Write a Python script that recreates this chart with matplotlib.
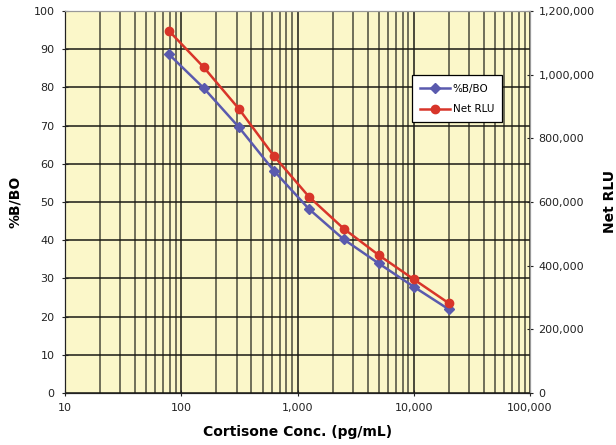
import numpy as np
import matplotlib
matplotlib.use("Agg")
import matplotlib.pyplot as plt
from matplotlib.ticker import FuncFormatter, LogLocator, NullFormatter

# data
conc = [78.125, 156.25, 312.5, 625, 1250, 2500, 5000, 10000, 20000]
pct_b_b0 = [88.7, 79.8, 69.6, 58.2, 48.2, 40.2, 33.9, 27.8, 21.9]
net_rlu = [1138000, 1023000, 893000, 745000, 617000, 516000, 433000, 357000, 282000]

bg = '#FBF7C9'
blue = '#5A5AAE'
red = '#D8352A'

plt.rcParams['font.family'] = 'DejaVu Sans'

fig = plt.figure(figsize=(6.16, 4.45), dpi=100)
ax = fig.add_axes([0.1055, 0.1169, 0.755, 0.8584])
ax.set_facecolor(bg)

ax.set_xscale('log')
ax.set_xlim(10, 100000)
ax.set_ylim(0, 100)
ax.set_yticks(np.arange(0, 101, 10))
ax.xaxis.set_major_locator(LogLocator(base=10, numticks=10))
ax.xaxis.set_minor_locator(LogLocator(base=10, subs=np.arange(2, 10), numticks=20))
ax.xaxis.set_minor_formatter(NullFormatter())
ax.xaxis.set_major_formatter(FuncFormatter(lambda v, p: f'{v:,.0f}'))

ax.grid(True, which='major', axis='both', color='#1a1a14', lw=1.1)
ax.grid(True, which='minor', axis='x', color='#4a4a3c', lw=1.1)
ax.set_axisbelow(True)

ax.tick_params(axis='x', which='minor', length=0)
ax.tick_params(axis='both', which='major', direction='inout', length=5, labelsize=8,
               colors='#222222', pad=5)

l1, = ax.plot(conc, pct_b_b0, color=blue, marker='D', ms=5.5, lw=1.8, label='%B/BO')

ax2 = ax.twinx()
ax2.set_ylim(0, 1200000)
ax2.set_yticks(np.arange(0, 1200001, 200000))
ax2.yaxis.set_major_formatter(FuncFormatter(lambda v, p: f'{v:,.0f}'))
ax2.tick_params(axis='y', direction='inout', length=5, labelsize=8, colors='#222222')
l2, = ax2.plot(conc, net_rlu, color=red, marker='o', ms=6, lw=1.8, label='Net RLU')

for a in (ax, ax2):
    for s in ('top', 'right'):
        a.spines[s].set_color('#999999')
    a.spines['left'].set_color('#222222')
    a.spines['bottom'].set_color('#222222')

ax.set_xlabel('Cortisone Conc. (pg/mL)', fontsize=10, fontweight='bold', labelpad=8)
ax.set_ylabel('%B/BO', fontsize=10, fontweight='bold', labelpad=8)
ax2.set_ylabel('Net RLU', fontsize=10, fontweight='bold', labelpad=6)

leg = ax2.legend(handles=[l1, l2], loc='upper left', bbox_to_anchor=(0.735, 0.845),
                 fontsize=7.5, fancybox=False, framealpha=1, edgecolor='black',
                 handlelength=2.8, borderpad=0.8, labelspacing=1.0, handletextpad=0.3)
leg.get_frame().set_linewidth(0.9)

fig.savefig('out.png', dpi=100)
